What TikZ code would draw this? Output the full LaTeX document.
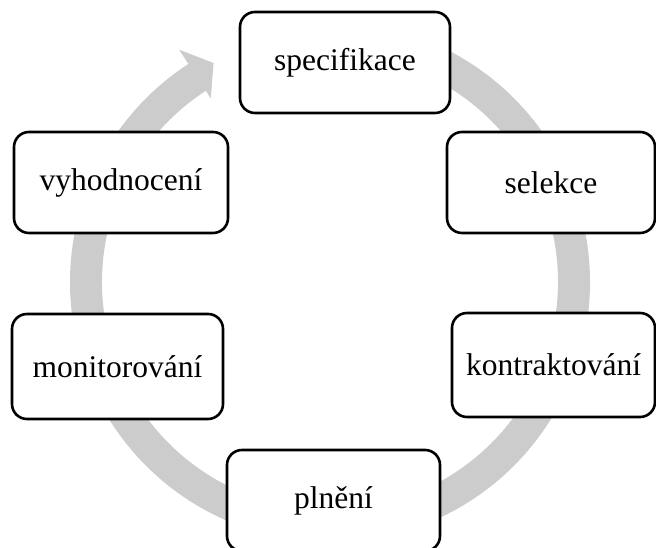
\documentclass[tikz,border=0pt]{standalone}
\usepackage{fontspec}
\setmainfont{Liberation Serif}
\definecolor{arrowgray}{RGB}{204,204,204}
\tikzset{
  stagebox/.style={draw=black, line width=2.6pt, rounded corners=15pt, fill=white,
    inner sep=0pt, font=\fontsize{31.5}{36}\selectfont, minimum height=101pt}
}
\begin{document}
\begin{tikzpicture}[x=1pt,y=1pt]
\useasboundingbox (0,0) rectangle (656,548);
\clip (0,0) rectangle (656,548);
\begin{scope}[shift={(330,266)}]
\fill[arrowgray] (95:260pt) arc[start angle=95,end angle=-237,radius=260pt]
  -- (-237:277pt) -- (-242:248pt) -- (-237:219pt) -- (-237:228pt)
  arc[start angle=-237,end angle=95,radius=228pt] -- cycle;
\end{scope}
\node[stagebox, minimum width=210pt] (spec) at (345,485.5) {specifikace};
\node[stagebox, minimum width=208pt] (sel) at (551,365.5) {selekce};
\node[stagebox, minimum width=203pt, minimum height=104pt] (kon) at (553.5,183) {kontraktování};
\node[stagebox, minimum width=213pt] (pln) at (333.5,47.5) {plnění};
\node[stagebox, minimum width=211pt, minimum height=105pt] (mon) at (117.5,181.5) {monitorování};
\node[stagebox, minimum width=214pt] (vyh) at (121,365.5) {vyhodnocení};
\end{tikzpicture}
\end{document}
